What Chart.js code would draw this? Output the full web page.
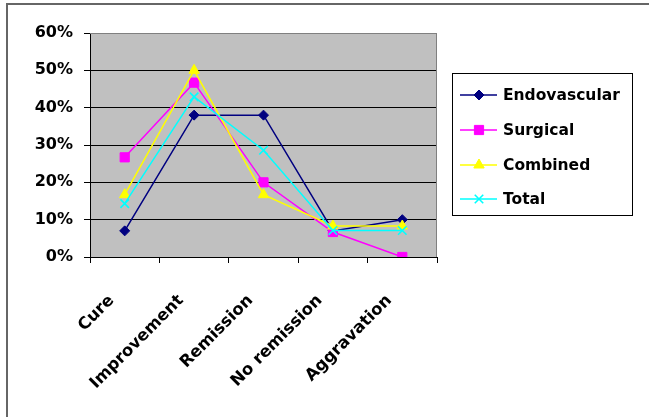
<!DOCTYPE html>
<html>
<head>
<meta charset="utf-8">
<script src="https://cdn.jsdelivr.net/npm/chart.js@4.4.1/dist/chart.umd.min.js"></script>
<style>
  html, body { margin: 0; padding: 0; background: #ffffff; }
  #wrap { width: 649px; height: 417px; position: relative; }
</style>
</head>
<body>
<div id="wrap"><canvas id="c" width="649" height="417"></canvas></div>
<script>
// Treatment outcome categories
const categories = ['Cure', 'Improvement', 'Remission', 'No remission', 'Aggravation'];

// Share of patients per outcome (fractions)
const endovascular = [0.07, 0.38, 0.38, 0.07, 0.10];
const surgical     = [0.267, 0.467, 0.20, 0.067, 0.00];
const combined     = [0.167, 0.50, 0.167, 0.083, 0.083];
const total        = [0.143, 0.429, 0.286, 0.071, 0.071];

// Y-axis tick values
const yTicks = [0, 0.1, 0.2, 0.3, 0.4, 0.5, 0.6];

const seriesNames = ['Endovascular', 'Surgical', 'Combined', 'Total'];
const seriesColors = ['#000080', '#FF00FF', '#FFFF00', '#00FFFF'];
const seriesShapes = ['rectRot', 'rect', 'triangle', 'crossRot'];
const seriesRadius = [5, 6.5, 6, 6];
const seriesData = [endovascular, surgical, combined, total];

const FONT = "'DejaVu Sans', 'Liberation Sans', sans-serif";

const PLOT = { left: 90, right: 437, top: 33, bottom: 257 };

const datasets = seriesData.map((d, i) => ({
  label: seriesNames[i],
  data: d,
  borderColor: seriesColors[i],
  backgroundColor: seriesColors[i],
  pointBackgroundColor: seriesColors[i],
  pointBorderColor: seriesColors[i],
  pointStyle: seriesShapes[i],
  pointRadius: seriesRadius[i],
  pointBorderWidth: i === 3 ? 1.6 : 1,
  borderWidth: 1.5,
  tension: 0,
  fill: false,
  order: 3 - i
}));

// Outer frame + grey plot background
const backdrop = {
  id: 'backdrop',
  beforeDraw(chart) {
    const ctx = chart.ctx;
    const a = chart.chartArea;
    ctx.save();
    ctx.fillStyle = '#ffffff';
    ctx.fillRect(0, 0, chart.width, chart.height);
    ctx.strokeStyle = '#666666';
    ctx.lineWidth = 2;
    ctx.strokeRect(7, 4, 800, 600);
    ctx.fillStyle = '#C0C0C0';
    ctx.fillRect(a.left, a.top, a.right - a.left, a.bottom - a.top);
    ctx.restore();
  },
  beforeDatasetsDraw(chart) {
    const ctx = chart.ctx;
    const a = chart.chartArea;
    ctx.save();
    ctx.strokeStyle = '#808080';
    ctx.lineWidth = 1;
    ctx.beginPath();
    ctx.moveTo(a.left, a.top + 0.5);
    ctx.lineTo(a.right - 0.5, a.top + 0.5);
    ctx.lineTo(a.right - 0.5, a.bottom);
    ctx.stroke();
    ctx.restore();
  }
};

function marker(ctx, shape, r, x, y, color) {
  ctx.save();
  ctx.fillStyle = color;
  ctx.strokeStyle = color;
  ctx.lineWidth = shape === 'crossRot' ? 1.6 : 1;
  if (Chart.helpers && Chart.helpers.drawPoint) {
    Chart.helpers.drawPoint(ctx, { pointStyle: shape, radius: r, rotation: 0, borderWidth: ctx.lineWidth }, x, y);
  }
  ctx.restore();
}

// Boxed legend on the right
const boxLegend = {
  id: 'boxLegend',
  afterDraw(chart) {
    const ctx = chart.ctx;
    ctx.save();
    ctx.strokeStyle = '#000000';
    ctx.lineWidth = 1;
    ctx.strokeRect(452.5, 73.5, 180, 142);
    const rows = [95, 130, 165, 199];
    chart.data.datasets.forEach((ds, i) => {
      const y = rows[i];
      ctx.strokeStyle = ds.borderColor;
      ctx.lineWidth = 1.5;
      ctx.beginPath();
      ctx.moveTo(460, y);
      ctx.lineTo(497, y);
      ctx.stroke();
      marker(ctx, ds.pointStyle, ds.pointRadius, 479, y, ds.borderColor);
      ctx.fillStyle = '#000000';
      ctx.font = 'bold 15.5px ' + FONT;
      ctx.textAlign = 'left';
      ctx.textBaseline = 'middle';
      ctx.fillText(ds.label, 503, y + 1);
    });
    ctx.restore();
  }
};

new Chart(document.getElementById('c'), {
  type: 'line',
  data: { labels: categories, datasets },
  plugins: [backdrop, boxLegend],
  options: {
    responsive: false,
    animation: false,
    devicePixelRatio: 1,
    layout: { padding: { left: 0, top: PLOT.top, right: 649 - PLOT.right, bottom: 0 } },
    plugins: { legend: { display: false }, tooltip: { enabled: false } },
    scales: {
      x: {
        offset: true,
        grid: {
          offset: true,
          drawOnChartArea: false,
          drawTicks: true,
          tickLength: 6,
          color: '#000000'
        },
        border: { display: true, color: '#000000', width: 1 },
        ticks: {
          color: '#000000',
          font: { family: FONT, size: 16.5, weight: 'bold' },
          minRotation: 45,
          maxRotation: 45,
          padding: 28,
          labelOffset: -13,
          autoSkip: false
        },
        afterFit(scale) { scale.height = 417 - PLOT.bottom; }
      },
      y: {
        min: 0,
        max: 0.6,
        afterBuildTicks(scale) { scale.ticks = yTicks.map(v => ({ value: v })); },
        grid: {
          color: (c) => (c.tick && Math.abs(c.tick.value - 0.6) < 1e-9) ? '#808080' : '#000000',
          lineWidth: 1,
          tickLength: 6,
          tickColor: '#000000'
        },
        border: { display: true, color: '#000000', width: 1 },
        ticks: {
          color: '#000000',
          font: { family: FONT, size: 16, weight: 'bold' },
          padding: 11,
          callback: (v) => Math.round(v * 100) + '%'
        },
        afterFit(scale) { scale.width = PLOT.left; }
      }
    }
  }
});
</script>
</body>
</html>
